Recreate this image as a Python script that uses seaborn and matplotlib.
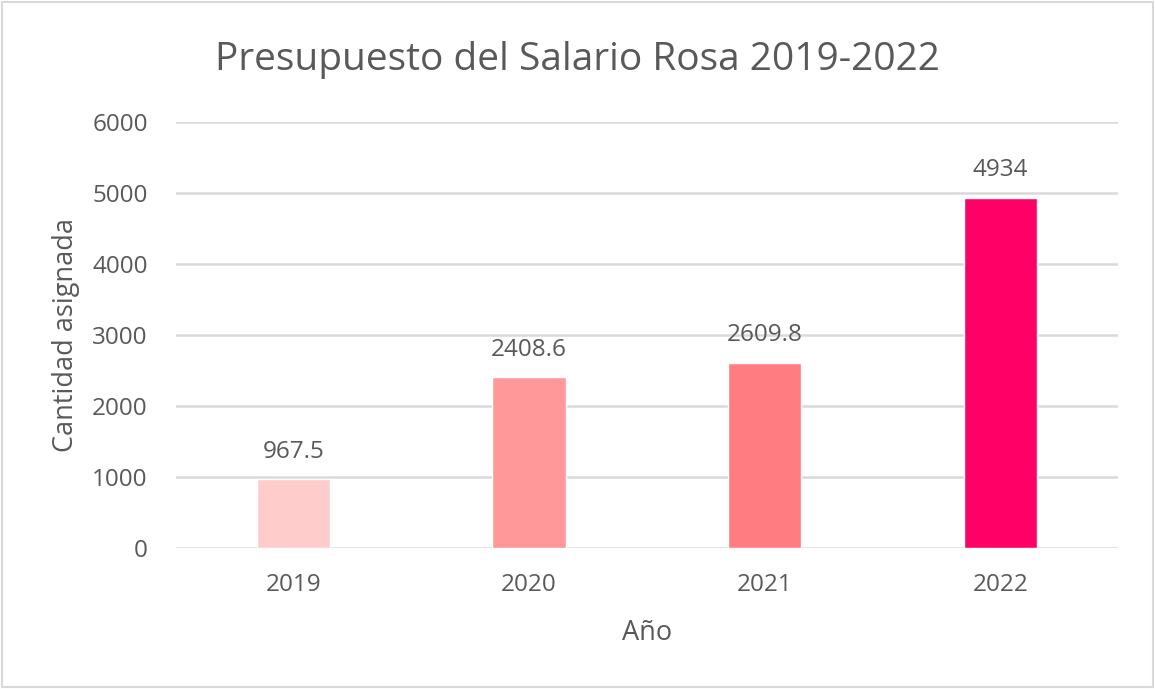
import pandas as pd
import matplotlib

matplotlib.use("Agg")
import matplotlib.pyplot as plt
import seaborn as sns
from matplotlib.patches import Rectangle

# data
years = ["2019", "2020", "2021", "2022"]
amounts = [967.5, 2408.6, 2609.8, 4934]
labels = ["967.5", "2408.6", "2609.8", "4934"]
bar_colors = ["#FFCCCC", "#FF9999", "#FF7C80", "#FF0066"]

df = pd.DataFrame({"Año": years, "Cantidad": amounts})

sns.set_theme(style="white")
plt.rcParams["font.family"] = ["Open Sans", "DejaVu Sans"]
text_color = "#595959"

fig = plt.figure(figsize=(11.55, 6.89), dpi=100)
ax = fig.add_axes([0.152, 0.2047, 0.816, 0.6183])

sns.barplot(
    data=df,
    x="Año",
    y="Cantidad",
    hue="Año",
    palette=bar_colors,
    saturation=1,
    legend=False,
    width=0.31,
    ax=ax,
    zorder=3,
)

ax.set_ylim(0, 6000)
ax.set_yticks(range(0, 6001, 1000))
ax.yaxis.grid(True, color="#D9D9D9", linewidth=1.8, zorder=0)
ax.set_axisbelow(True)
for side in ["top", "right", "left", "bottom"]:
    ax.spines[side].set_visible(False)

ax.tick_params(axis="both", labelsize=17.5, colors=text_color, length=0)
ax.tick_params(axis="y", pad=20)
ax.tick_params(axis="x", pad=18)

for i, (val, lab) in enumerate(zip(amounts, labels)):
    ax.annotate(lab, (i, val), xytext=(0, 11), textcoords="offset points",
                ha="center", va="bottom", fontsize=17.5, color=text_color)

ax.set_xlabel("Año", fontsize=19.5, color=text_color, labelpad=16)
ax.set_ylabel("Cantidad asignada", fontsize=19.5, color=text_color, labelpad=9)

fig.suptitle("Presupuesto del Salario Rosa 2019-2022", fontsize=28,
             color=text_color, x=0.5, y=0.94)

# light frame around the chart area
fig.patches.append(Rectangle((0.002, 0.003), 0.996, 0.994, transform=fig.transFigure,
                             fill=False, edgecolor="#D9D9D9", linewidth=1.5))

plt.savefig("out.png", dpi=100)
plt.close()
